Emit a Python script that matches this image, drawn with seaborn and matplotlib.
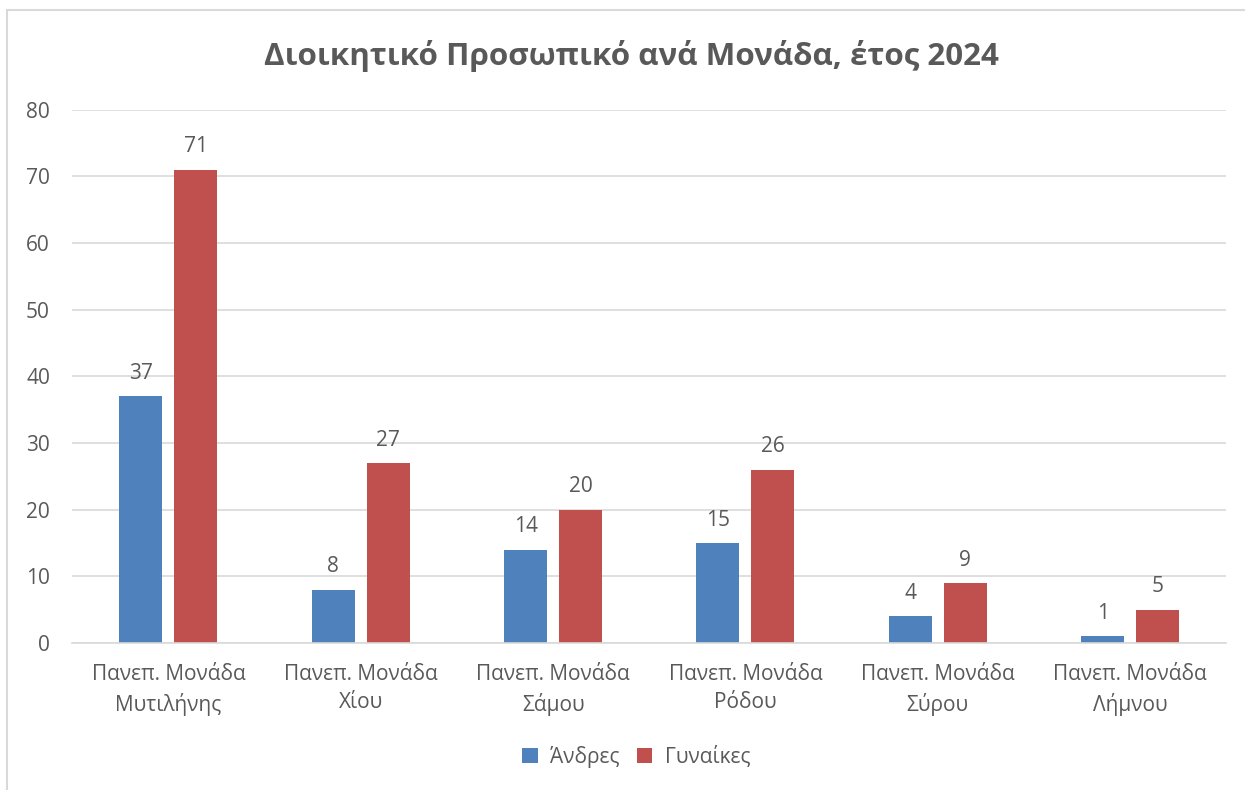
import matplotlib
matplotlib.use("Agg")
import matplotlib.pyplot as plt
import seaborn as sns
import pandas as pd
from matplotlib.patches import Rectangle

units = ["Πανεπ. Μονάδα\nΜυτιλήνης", "Πανεπ. Μονάδα\nΧίου", "Πανεπ. Μονάδα\nΣάμου",
         "Πανεπ. Μονάδα\nΡόδου", "Πανεπ. Μονάδα\nΣύρου", "Πανεπ. Μονάδα\nΛήμνου"]
men = [37, 8, 14, 15, 4, 1]
women = [71, 27, 20, 26, 9, 5]
series = ["Άνδρες", "Γυναίκες"]
colors = ["#4F81BD", "#C0504D"]
yticks = [0, 10, 20, 30, 40, 50, 60, 70, 80]

df = pd.DataFrame({
    "unit": units * 2,
    "value": men + women,
    "series": [series[0]] * len(units) + [series[1]] * len(units),
})

sns.set_theme(style="white")
plt.rcParams["font.family"] = ["Open Sans", "DejaVu Sans"]
text_color = "#595959"

fig = plt.figure(figsize=(12.45, 7.9), dpi=100)
ax = fig.add_axes([0.058, 0.186, 0.927, 0.675])

sns.barplot(data=df, x="unit", y="value", hue="series", palette=colors,
            width=0.572, gap=0.217, ax=ax, saturation=1, legend=True, linewidth=0)

for cont in ax.containers:
    ax.bar_label(cont, padding=9, fontsize=15, color=text_color)

ax.set_ylim(0, 80)
ax.set_yticks(yticks)
ax.yaxis.grid(True, color="#D9D9D9", linewidth=1.2)
ax.set_axisbelow(True)
for s in ["top", "right", "left"]:
    ax.spines[s].set_visible(False)
ax.spines["bottom"].set_color("#D9D9D9")
ax.spines["bottom"].set_linewidth(1.2)
ax.set_xlabel("")
ax.set_ylabel("")
ax.tick_params(axis="both", length=0, labelsize=15, labelcolor=text_color)
ax.tick_params(axis="x", pad=15)
ax.tick_params(axis="y", pad=16)
for lab in ax.get_xticklabels():
    lab.set_linespacing(1.45)

ax.legend(loc="center", bbox_to_anchor=(0.511, 0.042), bbox_transform=fig.transFigure,
          ncol=2, frameon=False, fontsize=15, labelcolor=text_color,
          handlelength=0.75, handleheight=0.75, handletextpad=0.6, columnspacing=0.8)

fig.text(0.507, 0.929, "Διοικητικό Προσωπικό ανά Μονάδα, έτος 2024", ha="center", va="center",
         fontsize=22.6, fontweight="bold", color=text_color)

fig.patches.append(Rectangle((7 / 1245, -0.1), 1.2, 1.1 - 10 / 790,
                             transform=fig.transFigure, fill=False,
                             edgecolor="#D9D9D9", linewidth=1.5))

fig.savefig("out.png", dpi=100, facecolor="white")
